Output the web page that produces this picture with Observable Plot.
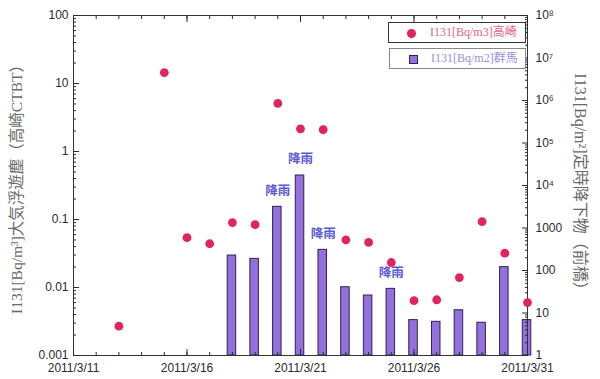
<!DOCTYPE html>
<html><head><meta charset="utf-8">
<script src="https://cdn.jsdelivr.net/npm/d3@7"></script>
<script src="https://cdn.jsdelivr.net/npm/@observablehq/plot@0.6"></script>
<style>
body{margin:0;background:#fff;}
#wrap{position:relative;width:600px;height:379px;overflow:hidden;}
.leg{position:absolute;box-sizing:border-box;background:#fff;font-family:"Liberation Serif","Noto Sans CJK JP",serif;font-size:12px;line-height:19px;white-space:nowrap;}
.leg .sym{position:absolute;}
.leg .lab{position:absolute;left:41px;top:0;}
</style></head><body><div id="wrap"></div>
<script>
// Air concentration, Takasaki CTBT (left axis, Bq/m3)
const airDates = ["2011-03-13","2011-03-15","2011-03-16","2011-03-17","2011-03-18","2011-03-19","2011-03-20","2011-03-21","2011-03-22","2011-03-23","2011-03-24","2011-03-25","2011-03-26","2011-03-27","2011-03-28","2011-03-29","2011-03-30","2011-03-31"];
const airValues = [0.0027, 14.5, 0.054, 0.044, 0.090, 0.084, 5.1, 2.15, 2.09, 0.050, 0.046, 0.0233, 0.0064, 0.0066, 0.0140, 0.093, 0.032, 0.0060];
// Deposition, Gunma / Maebashi (right axis, Bq/m2)
const depDates = ["2011-03-18","2011-03-19","2011-03-20","2011-03-21","2011-03-22","2011-03-23","2011-03-24","2011-03-25","2011-03-26","2011-03-27","2011-03-28","2011-03-29","2011-03-30","2011-03-31"];
const depValues = [225, 188, 3150, 17200, 306, 40.4, 25.8, 37, 6.8, 6.2, 11.6, 5.9, 120, 6.8];
// Rain annotations
const rainDates = ["2011-03-20","2011-03-21","2011-03-22","2011-03-25"];
const rainLabel = "降雨";
// Tick labels
const xTickDates = ["2011-03-11","2011-03-16","2011-03-21","2011-03-26","2011-03-31"];
const xTickLabels = ["2011/3/11","2011/3/16","2011/3/21","2011/3/26","2011/3/31"];
const leftTicks = [0.001, 0.01, 0.1, 1, 10, 100];
const leftTickLabels = ["0.001","0.01","0.1","1","10","100"];
const rightTicks = [1, 10, 100, 1000, 1e4, 1e5, 1e6, 1e7, 1e8];
const rightTickLabels = ["1","10","100","1000","10\u2074","10\u2075","10\u2076","10\u2077","10\u2078"];
const leftTitle = "I131[Bq/m\u00b3]大気浮遊塵（高崎CTBT）";
const rightTitle = "I131[Bq/m\u00b2]定時降下物（前橋）";
const legendLabels = ["I131[Bq/m3]高崎", "I131[Bq/m2]群馬"];

const parse = d3.utcParse("%Y-%m-%d");
// map right-axis value (1..1e8) onto left-axis domain (0.001..100)
const toLeft = v => Math.pow(10, -3 + Math.log10(v) * 5 / 8);

const air = airDates.map((d, i) => ({date: parse(d), value: airValues[i]}));
const dep = depDates.map((d, i) => ({date: parse(d), value: depValues[i], y: toLeft(depValues[i])}));
const rain = rainDates.map(d => dep.find(e => +e.date === +parse(d)));
const rightTickData = rightTicks.map((v, i) => ({y: toLeft(v), label: rightTickLabels[i]}));

const xTicks = xTickDates.map(parse);
const xLabelMap = new Map(xTicks.map((d, i) => [+d, xTickLabels[i]]));
const allDays = d3.utcDay.range(parse("2011-03-11"), parse("2011-04-01"));

const leftMinor = [];
for (let e = -3; e < 2; e++) for (let m = 2; m <= 9; m++) leftMinor.push(m * Math.pow(10, e));
const rightMinor = [];
for (let e = 0; e < 8; e++) for (let m = 2; m <= 9; m++) rightMinor.push(toLeft(m * Math.pow(10, e)));

const empty = () => "";
const halfW = 4.2; // hours each side of bar centre

const chart = Plot.plot({
  width: 600,
  height: 379,
  marginLeft: 73,
  marginRight: 73,
  marginTop: 15,
  marginBottom: 24,
  style: {fontFamily: "Liberation Sans, Arial, sans-serif", fontSize: "12px", color: "#2a2a2a", background: "#fff"},
  x: {type: "utc", domain: [parse("2011-03-11"), parse("2011-03-31")], label: null},
  y: {type: "log", domain: [0.001, 100], label: null},
  marks: [
    Plot.rectY(dep, {
      x1: d => d3.utcHour.offset(d.date, -halfW),
      x2: d => d3.utcHour.offset(d.date, halfW),
      y1: 0.001, y2: "y",
      fill: "#9370db", stroke: "#2b2452", strokeWidth: 1
    }),
    Plot.frame({stroke: "#333"}),
    // x axis
    Plot.axisX({ticks: xTicks, tickFormat: d => xLabelMap.get(+d), tickSize: 0, tickPadding: 8, fontSize: 12}),
    Plot.axisX({ticks: allDays, tickSize: -3, tickFormat: empty}),
    Plot.axisX({ticks: xTicks, tickSize: -6, tickFormat: empty}),
    Plot.axisX({anchor: "top", ticks: allDays, tickSize: -3, tickFormat: empty}),
    Plot.axisX({anchor: "top", ticks: xTicks, tickSize: -6, tickFormat: empty}),
    // left axis
    Plot.axisY({anchor: "left", ticks: leftTicks, tickFormat: d => leftTickLabels[leftTicks.indexOf(d)], tickSize: 0, tickPadding: 5, fontSize: 12}),
    Plot.axisY({anchor: "left", ticks: leftTicks, tickSize: -6, tickFormat: empty}),
    Plot.axisY({anchor: "left", ticks: leftMinor, tickSize: -3, tickFormat: empty}),
    // right axis
    Plot.text(rightTickData, {y: "y", text: "label", frameAnchor: "right", textAnchor: "start", dx: 8, fill: "#2a2a2a", fontSize: 12}),
    Plot.axisY({anchor: "right", ticks: rightTicks.map(toLeft), tickSize: -6, tickFormat: empty}),
    Plot.axisY({anchor: "right", ticks: rightMinor, tickSize: -3, tickFormat: empty}),
    // points
    Plot.dot(air, {x: "date", y: "value", r: 4.4, fill: "#e2245c", stroke: "none"}),
    // rain annotations
    Plot.text(rain, {x: "date", y: "y", text: () => rainLabel, dy: -16, fill: "#5a5ad6", fontWeight: "bold", fontSize: 12.5, fontFamily: "Noto Sans CJK JP, sans-serif"}),
    // axis titles
    Plot.text([leftTitle], {text: d => d, frameAnchor: "left", textAnchor: "middle", rotate: -90, dx: -56, fill: "#6a6a6a", fontSize: 15.5, fontFamily: "Liberation Serif, Noto Sans CJK JP, serif"}),
    Plot.text([rightTitle], {text: d => d, frameAnchor: "right", textAnchor: "middle", rotate: 90, dx: 53, fill: "#6a6a6a", fontSize: 16, fontFamily: "Liberation Serif, Noto Sans CJK JP, serif"})
  ]
});

const wrap = document.getElementById("wrap");
wrap.appendChild(chart);

// legend
function legendBox(left, top, w, h, border, symHtml, label, color) {
  const div = document.createElement("div");
  div.className = "leg";
  Object.assign(div.style, {left: left + "px", top: top + "px", width: w + "px", height: h + "px", border: "1px solid " + border});
  div.innerHTML = symHtml + `<span class="lab" style="color:${color}">${label}</span>`;
  wrap.appendChild(div);
}
legendBox(388, 22, 138, 21, "#333",
  `<span class="sym" style="left:18px;top:6px;width:9px;height:9px;border-radius:50%;background:#e2245c"></span>`,
  legendLabels[0], "#e8628c");
legendBox(389, 48, 137, 21, "#888",
  `<span class="sym" style="left:19px;top:6px;width:7px;height:7px;background:#9370db;border:1px solid #2b2452"></span>`,
  legendLabels[1], "#9a8fe0");
</script>
</body></html>
